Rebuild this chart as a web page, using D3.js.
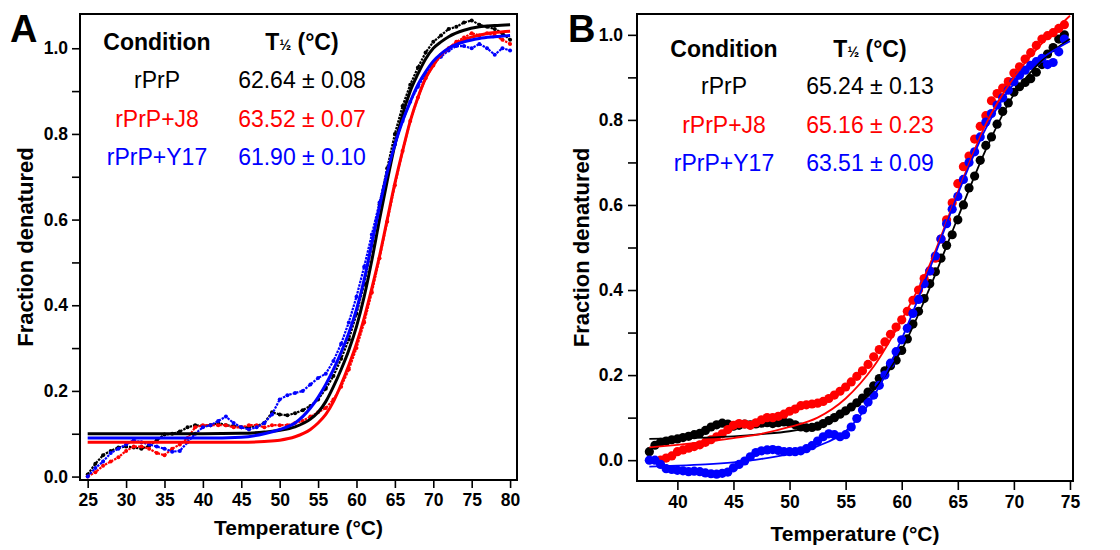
<!DOCTYPE html>
<html>
<head>
<meta charset="utf-8">
<script src="https://cdn.jsdelivr.net/npm/d3@7"></script>
<style>
  body { margin: 0; background: #fff; }
  svg { display: block; font-family: "Liberation Sans", Arial, sans-serif; }
</style>
</head>
<body>
<svg id="chart" width="1120" height="550"></svg>
<script>
// ---- data ----
var conditions = ["rPrP", "rPrP+J8", "rPrP+Y17"];
var colors = ["#000000", "#ff0000", "#0000ff"];
var thalfA = ["62.64 \u00b1 0.08", "63.52 \u00b1 0.07", "61.90 \u00b1 0.10"];
var thalfB = ["65.24 \u00b1 0.13", "65.16 \u00b1 0.23", "63.51 \u00b1 0.09"];

// panel A, raw traces (1 °C steps)
var tempA = [25, 26, 27, 28, 29, 30, 31, 32, 33, 34, 35, 36, 37, 38, 39, 40, 41, 42, 43, 44,
  45, 46, 47, 48, 49, 50, 51, 52, 53, 54, 55, 56, 57, 58, 59, 60, 61, 62, 63, 64,
  65, 66, 67, 68, 69, 70, 71, 72, 73, 74, 75, 76, 77, 78, 79, 80];
var rprpA = [0.005, 0.03, 0.05, 0.06, 0.068, 0.07, 0.068, 0.065, 0.072, 0.085, 0.098, 0.1, 0.105, 0.115, 0.12, 0.118, 0.12, 0.125, 0.12, 0.118,
  0.115, 0.115, 0.118, 0.125, 0.15, 0.145, 0.143, 0.148, 0.155, 0.165, 0.18, 0.205, 0.235, 0.275, 0.32, 0.38, 0.45, 0.54, 0.635, 0.72,
  0.8, 0.865, 0.915, 0.955, 0.99, 1.015, 1.03, 1.045, 1.05, 1.06, 1.065, 1.055, 1.05, 1.045, 1.035, 1.02];
var j8A = [0.0, 0.01, 0.025, 0.035, 0.045, 0.06, 0.07, 0.07, 0.065, 0.055, 0.05, 0.065, 0.075, 0.09, 0.115, 0.12, 0.12, 0.12, 0.12, 0.115,
  0.115, 0.12, 0.12, 0.115, 0.12, 0.12, 0.12, 0.125, 0.13, 0.14, 0.15, 0.16, 0.18, 0.21, 0.25, 0.3, 0.36, 0.43, 0.51, 0.595,
  0.68, 0.76, 0.83, 0.885, 0.93, 0.96, 0.985, 1.0, 1.015, 1.025, 1.035, 1.03, 1.035, 1.03, 1.02, 1.01];
var y17A = [0.0, 0.02, 0.035, 0.055, 0.065, 0.075, 0.085, 0.08, 0.075, 0.07, 0.065, 0.058, 0.06, 0.08, 0.1, 0.115, 0.12, 0.13, 0.14, 0.125,
  0.115, 0.11, 0.115, 0.125, 0.145, 0.18, 0.19, 0.195, 0.2, 0.215, 0.23, 0.24, 0.27, 0.31, 0.36, 0.42, 0.49, 0.565, 0.64, 0.71,
  0.775, 0.83, 0.875, 0.91, 0.94, 0.965, 0.98, 0.995, 1.005, 1.005, 1.0, 1.01, 1.0, 0.985, 1.0, 0.995];

// panel A, fitted curves
var fitTempA = [25, 30, 35, 40, 45, 48, 50, 52, 54, 55, 56, 57, 58, 59, 60, 61, 62, 63, 64, 65,
  66, 67, 68, 69, 70, 71, 72, 74, 76, 78, 80];
var fitRprpA = [0.1, 0.1, 0.1, 0.1, 0.101, 0.104, 0.108, 0.116, 0.134, 0.15, 0.175, 0.21, 0.25, 0.295, 0.35, 0.42, 0.505, 0.6, 0.69, 0.775,
  0.845, 0.9, 0.94, 0.975, 1.0, 1.015, 1.027, 1.042, 1.05, 1.053, 1.055];
var fitJ8A = [0.08, 0.08, 0.08, 0.08, 0.08, 0.082, 0.085, 0.093, 0.11, 0.125, 0.145, 0.175, 0.215, 0.26, 0.31, 0.37, 0.44, 0.515, 0.6, 0.685,
  0.76, 0.83, 0.885, 0.93, 0.96, 0.985, 1.0, 1.02, 1.031, 1.037, 1.04];
var fitY17A = [0.09, 0.09, 0.09, 0.09, 0.092, 0.1, 0.11, 0.125, 0.16, 0.185, 0.215, 0.25, 0.29, 0.335, 0.39, 0.46, 0.545, 0.63, 0.71, 0.775,
  0.83, 0.875, 0.915, 0.945, 0.97, 0.987, 1.0, 1.015, 1.023, 1.027, 1.03];

// panel B, raw points (0.5 °C steps)
var tempB = [37.5, 38, 38.5, 39, 39.5, 40, 40.5, 41, 41.5, 42, 42.5, 43, 43.5, 44, 44.5, 45, 45.5, 46, 46.5, 47,
  47.5, 48, 48.5, 49, 49.5, 50, 50.5, 51, 51.5, 52, 52.5, 53, 53.5, 54, 54.5, 55, 55.5, 56, 56.5, 57,
  57.5, 58, 58.5, 59, 59.5, 60, 60.5, 61, 61.5, 62, 62.5, 63, 63.5, 64, 64.5, 65, 65.5, 66, 66.5, 67,
  67.5, 68, 68.5, 69, 69.5, 70, 70.5, 71, 71.5, 72, 72.5, 73, 73.5, 74, 74.5];
var rprpB = [0.02, 0.035, 0.042, 0.045, 0.048, 0.05, 0.053, 0.056, 0.06, 0.063, 0.07, 0.078, 0.083, 0.087, 0.085, 0.08, 0.082, 0.085, 0.083, 0.085,
  0.087, 0.088, 0.086, 0.088, 0.09, 0.088, 0.083, 0.078, 0.076, 0.077, 0.08, 0.086, 0.093, 0.1, 0.108, 0.116, 0.125, 0.135, 0.146, 0.16,
  0.175, 0.192, 0.21, 0.222, 0.235, 0.258, 0.285, 0.32, 0.35, 0.38, 0.415, 0.443, 0.475, 0.505, 0.53, 0.565, 0.6, 0.64, 0.668, 0.705,
  0.74, 0.76, 0.79, 0.82, 0.84, 0.865, 0.878, 0.888, 0.897, 0.912, 0.93, 0.955, 0.97, 0.99, 1.0];
var j8B = [null, null, 0.0, 0.005, 0.01, 0.02, 0.024, 0.028, 0.032, 0.036, 0.042, 0.048, 0.055, 0.062, 0.072, 0.082, 0.086, 0.085, 0.082, 0.088,
  0.095, 0.1, 0.1, 0.103, 0.108, 0.115, 0.12, 0.128, 0.13, 0.132, 0.134, 0.138, 0.145, 0.153, 0.162, 0.172, 0.184, 0.197, 0.21, 0.225,
  0.243, 0.26, 0.278, 0.296, 0.313, 0.33, 0.35, 0.376, 0.4, 0.427, 0.445, 0.475, 0.52, 0.565, 0.605, 0.65, 0.69, 0.715, 0.755, 0.785,
  0.81, 0.845, 0.862, 0.875, 0.89, 0.91, 0.925, 0.943, 0.958, 0.975, 0.99, 0.998, 1.005, 1.015, 1.024];
var y17B = [0.0, 0.0, -0.01, -0.02, -0.022, -0.024, -0.025, -0.027, -0.026, -0.027, -0.03, -0.032, -0.033, -0.031, -0.028, -0.018, -0.01, -0.002, 0.008, 0.018,
  0.022, 0.024, 0.025, 0.023, 0.02, 0.02, 0.02, 0.022, 0.027, 0.034, 0.045, 0.055, 0.062, 0.06, 0.055, 0.06, 0.078, 0.098, 0.118, 0.137,
  0.153, 0.176, 0.2, 0.228, 0.255, 0.283, 0.31, 0.345, 0.378, 0.415, 0.445, 0.48, 0.52, 0.556, 0.59, 0.62, 0.66, 0.7, 0.725, 0.76,
  0.795, 0.815, 0.835, 0.852, 0.87, 0.89, 0.905, 0.917, 0.928, 0.937, 0.945, 0.93, 0.935, 0.96, 0.99];

// panel B, fitted curves
var fitTempB = [37.5, 40, 42.5, 45, 47.5, 50, 52.5, 55, 57.5, 60, 62.5, 65, 67.5, 70, 72.5, 75];
var fitRprpB = [0.05, 0.051, 0.053, 0.056, 0.061, 0.068, 0.082, 0.11, 0.165, 0.26, 0.405, 0.57, 0.73, 0.86, 0.94, 0.99];
var fitJ8B = [0.03, 0.036, 0.043, 0.052, 0.062, 0.078, 0.1, 0.145, 0.22, 0.33, 0.46, 0.63, 0.79, 0.9, 0.98, 1.045];
var fitY17B = [-0.015, -0.013, -0.01, -0.005, 0.003, 0.015, 0.033, 0.068, 0.15, 0.285, 0.45, 0.625, 0.78, 0.885, 0.945, 0.985];

// ticks
var xTicksA = [25, 30, 35, 40, 45, 50, 55, 60, 65, 70, 75, 80];
var xTicksB = [40, 45, 50, 55, 60, 65, 70, 75];
var yTicks = [0.0, 0.2, 0.4, 0.6, 0.8, 1.0];
var yMinorTicks = [0.1, 0.3, 0.5, 0.7, 0.9];

var svg = d3.select("#chart");

function pairs(temps, vals) {
	return temps.map(function(t, i) {
		return { t: t, v: vals[i] };
	}).filter(function(d) {
		return d.v !== null;
	});
}

function drawPanel(p) {
	var box = p.box;
	var x = d3.scaleLinear().domain(p.xDomain).range([box.left, box.right]);
	var y = d3.scaleLinear().domain(p.yDomain).range([box.bottom, box.top]);

	var g = svg.append("g");

	g.append("clipPath").attr("id", "clip" + p.letter)
		.append("rect")
		.attr("x", box.left).attr("y", box.top)
		.attr("width", box.right - box.left).attr("height", box.bottom - box.top);

	var plot = g.append("g").attr("clip-path", "url(#clip" + p.letter + ")");

	// raw data
	p.raw.forEach(function(vals, i) {
		var d = pairs(p.rawTemps, vals);
		if (p.smallDots) {
			plot.append("path")
				.datum(d)
				.attr("fill", "none")
				.attr("stroke", colors[i])
				.attr("stroke-width", 2.2)
				.attr("stroke-dasharray", "2.5,1")
				.attr("d", d3.line().x(function(e) { return x(e.t); }).y(function(e) { return y(e.v); }));
		}
		plot.append("g")
			.attr("fill", colors[i])
			.selectAll("circle")
			.data(d)
			.enter().append("circle")
			.attr("cx", function(e) { return x(e.t); })
			.attr("cy", function(e) { return y(e.v); })
			.attr("r", p.dotR);
	});

	// fitted curves
	p.fits.forEach(function(vals, i) {
		plot.append("path")
			.datum(pairs(p.fitTemps, vals))
			.attr("fill", "none")
			.attr("stroke", colors[i])
			.attr("stroke-width", p.fitWidth)
			.attr("d", d3.line().curve(d3.curveMonotoneX)
				.x(function(e) { return x(e.t); })
				.y(function(e) { return y(e.v); }));
	});

	// frame
	g.append("rect")
		.attr("x", box.left).attr("y", box.top)
		.attr("width", box.right - box.left).attr("height", box.bottom - box.top)
		.attr("fill", "none").attr("stroke", "#000").attr("stroke-width", 2);

	// axes
	g.append("g")
		.attr("transform", "translate(" + box.left + ",0)")
		.call(d3.axisLeft(y).tickValues(yTicks).tickFormat(d3.format(".1f")).tickSize(p.tickLen).tickPadding(p.yPad));
	g.append("g")
		.attr("transform", "translate(" + box.left + ",0)")
		.call(d3.axisLeft(y).tickValues(yMinorTicks).tickFormat("").tickSize(p.tickLen));
	g.append("g")
		.attr("transform", "translate(0," + box.bottom + ")")
		.call(d3.axisBottom(x).tickValues(p.xTicks).tickFormat(d3.format("d")).tickSize(p.tickLen).tickPadding(6));

	g.selectAll(".domain").remove();
	g.selectAll(".tick line").attr("stroke", "#000").attr("stroke-width", 1.6);
	g.selectAll(".tick text")
		.attr("fill", "#000")
		.attr("font-family", "Liberation Sans, Arial, sans-serif")
		.attr("font-size", 17.5)
		.attr("font-weight", "bold");

	// axis titles
	g.append("text")
		.attr("x", (box.left + box.right) / 2)
		.attr("y", p.xTitleY)
		.attr("text-anchor", "middle")
		.attr("font-size", 21).attr("font-weight", "bold")
		.text("Temperature (\u00b0C)");

	g.append("text")
		.attr("transform", "translate(" + p.yTitleX + "," + (box.top + box.bottom) / 2 + ") rotate(-90)")
		.attr("text-anchor", "middle")
		.attr("font-size", 22).attr("font-weight", "bold")
		.text("Fraction denatured");

	// panel letter
	g.append("text")
		.attr("x", p.letterX).attr("y", p.letterY)
		.attr("font-size", 38).attr("font-weight", "bold")
		.text(p.letter);

	// legend table
	var leg = p.legend;
	g.append("text")
		.attr("x", leg.col1).attr("y", leg.headY)
		.attr("text-anchor", "middle")
		.attr("font-size", 23).attr("font-weight", "bold")
		.text("Condition");
	var th = g.append("text")
		.attr("x", leg.col2).attr("y", leg.headY)
		.attr("text-anchor", "middle")
		.attr("font-size", 23).attr("font-weight", "bold");
	th.append("tspan").text("T");
	th.append("tspan").attr("font-size", 14).text("\u00bd");
	th.append("tspan").text(" (\u00b0C)");

	conditions.forEach(function(c, i) {
		var ry = leg.rowY + i * leg.rowStep;
		g.append("text")
			.attr("x", leg.col1).attr("y", ry)
			.attr("text-anchor", "middle")
			.attr("font-size", 23)
			.attr("fill", colors[i])
			.text(c);
		g.append("text")
			.attr("x", leg.col2).attr("y", ry)
			.attr("text-anchor", "middle")
			.attr("font-size", 23)
			.attr("fill", colors[i])
			.text(p.thalf[i]);
	});
}

drawPanel({
	letter: "A",
	box: { left: 80, right: 517, top: 14, bottom: 480 },
	xDomain: [24, 80.9],
	yDomain: [-0.008, 1.08],
	xTicks: xTicksA,
	rawTemps: tempA,
	raw: [rprpA, j8A, y17A],
	fitTemps: fitTempA,
	fits: [fitRprpA, fitJ8A, fitY17A],
	smallDots: true,
	dotR: 2,
	fitWidth: 3,
	tickLen: 8,
	yPad: 4,
	xTitleY: 535,
	yTitleX: 33,
	letterX: 10,
	letterY: 42,
	thalf: thalfA,
	legend: { col1: 157, col2: 302, headY: 50, rowY: 88, rowStep: 38.5 }
});

drawPanel({
	letter: "B",
	box: { left: 637, right: 1073, top: 14, bottom: 481 },
	xDomain: [36.4, 75.27],
	yDomain: [-0.049, 1.049],
	xTicks: xTicksB,
	rawTemps: tempB,
	raw: [rprpB, j8B, y17B],
	fitTemps: fitTempB,
	fits: [fitRprpB, fitJ8B, fitY17B],
	smallDots: false,
	dotR: 4.6,
	fitWidth: 1.8,
	tickLen: 9,
	yPad: 5,
	xTitleY: 541,
	yTitleX: 589,
	letterX: 568,
	letterY: 42,
	thalf: thalfB,
	legend: { col1: 724, col2: 870, headY: 57, rowY: 94, rowStep: 38.5 }
});
</script>
</body>
</html>
